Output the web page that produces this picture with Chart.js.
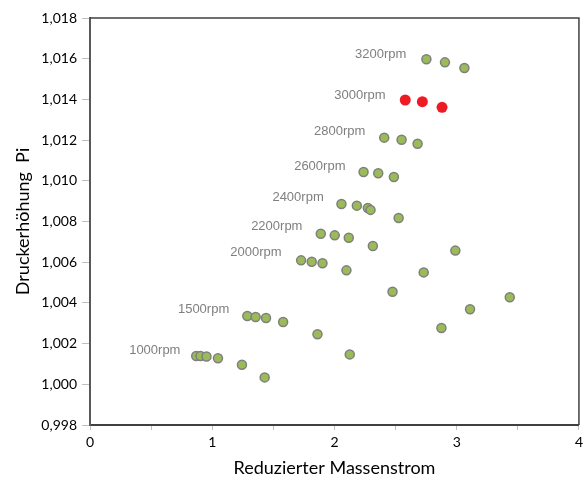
<!DOCTYPE html>
<html lang="de">

<head>
    <meta charset="UTF-8">
    <title>Druckerhöhung über reduziertem Massenstrom</title>

    <style>
        html,
        body {
            margin: 0;
            padding: 0;
            background-color: #ffffff;
            overflow: hidden;
        }

        #chart {
            display: block;
        }
    </style>

    <script src="https://cdn.jsdelivr.net/npm/chart.js"></script>
</head>

<body>

    <canvas id="chart" width="587" height="480"></canvas>

<script>
    // Messpunkte (grün)
    const massFlow = [
        2.752, 2.904, 3.063,
        2.407, 2.549, 2.680,
        2.238, 2.358, 2.486,
        2.057, 2.183, 2.273, 2.295, 2.525,
        1.888, 2.002, 2.117, 2.314,
        1.727, 1.814, 1.902, 2.098, 2.989,
        2.730, 2.475, 3.434, 3.109, 2.875, 2.125,
        1.287, 1.355, 1.440, 1.580, 1.861,
        0.869, 0.904, 0.953, 1.047, 1.243, 1.429
    ];
    const pressureRatio = [
        1.01597, 1.01582, 1.01554,
        1.01212, 1.01202, 1.01182,
        1.01043, 1.01037, 1.01019,
        1.00886, 1.00878, 1.00866, 1.00857, 1.00817,
        1.00740, 1.00732, 1.00720, 1.00680,
        1.00609, 1.00602, 1.00595, 1.00560, 1.00657,
        1.00550, 1.00455, 1.00428, 1.00369, 1.00277, 1.00147,
        1.00336, 1.00331, 1.00326, 1.00306, 1.00246,
        1.00139, 1.00139, 1.00137, 1.00128, 1.00096, 1.00034
    ];

    // 3000rpm (rot markiert)
    const massFlow3000 = [2.579, 2.719, 2.880];
    const pressure3000 = [1.01397, 1.01389, 1.01361];

    // Drehzahl-Beschriftungen (rechtsbündig, in Achsenwerten)
    const speedLabels = ['3200rpm', '3000rpm', '2800rpm', '2600rpm', '2400rpm', '2200rpm', '2000rpm', '1500rpm', '1000rpm'];
    const speedLabelX = [2.588, 2.418, 2.252, 2.090, 1.912, 1.738, 1.568, 1.139, 0.740];
    const speedLabelY = [1.01622, 1.01418, 1.01243, 1.01073, 1.00919, 1.00774, 1.00649, 1.00369, 1.00167];

    const greenPoints = massFlow.map((x, i) => ({ x: x, y: pressureRatio[i] }));
    const redPoints = massFlow3000.map((x, i) => ({ x: x, y: pressure3000[i] }));

    const speedLabelPlugin = {
        id: 'speedLabels',
        afterDatasetsDraw(chart) {
            const ctx = chart.ctx;
            const xs = chart.scales.x;
            const ys = chart.scales.y;
            ctx.save();
            ctx.font = '13px "Liberation Sans", Arial, sans-serif';
            ctx.fillStyle = '#7f7f7f';
            ctx.textAlign = 'right';
            ctx.textBaseline = 'middle';
            speedLabels.forEach((t, i) => {
                ctx.fillText(t, xs.getPixelForValue(speedLabelX[i]), ys.getPixelForValue(speedLabelY[i]));
            });
            ctx.restore();
        }
    };

    // obere und rechte Rahmenlinie
    const framePlugin = {
        id: 'frame',
        afterDraw(chart) {
            const a = chart.chartArea;
            const ctx = chart.ctx;
            ctx.save();
            ctx.strokeStyle = '#404040';
            ctx.lineWidth = 1.5;
            ctx.beginPath();
            ctx.moveTo(a.left, a.top);
            ctx.lineTo(a.right, a.top);
            ctx.lineTo(a.right, a.bottom);
            ctx.stroke();
            ctx.restore();
        }
    };

    const ctx = document.getElementById('chart').getContext('2d');
    new Chart(ctx, {
        type: 'scatter',
        data: {
            datasets: [{
                label: 'Messung',
                data: greenPoints,
                backgroundColor: '#9bbb59',
                borderColor: '#7f7f7f',
                borderWidth: 1.5,
                pointRadius: 4.5
            }, {
                label: '3000rpm',
                data: redPoints,
                backgroundColor: '#ed1c24',
                borderColor: '#ed1c24',
                borderWidth: 0,
                pointRadius: 5.5
            }]
        },
        options: {
            responsive: false,
            animation: false,
            layout: {
                padding: { top: 18, right: 8, left: 0, bottom: 0 }
            },
            plugins: {
                legend: { display: false },
                tooltip: { enabled: false }
            },
            scales: {
                x: {
                    type: 'linear',
                    min: 0,
                    max: 4,
                    ticks: {
                        stepSize: 0.5,
                        color: '#000000',
                        font: { family: 'Lato', size: 14 },
                        padding: 4,
                        maxRotation: 0,
                        autoSkip: false,
                        callback: v => (Number.isInteger(v) ? String(v) : '')
                    },
                    grid: {
                        drawOnChartArea: false,
                        color: '#bfbfbf',
                        tickLength: 5
                    },
                    border: { color: '#404040', width: 2 },
                    title: {
                        display: true,
                        text: 'Reduzierter Massenstrom',
                        color: '#000000',
                        font: { family: 'Lato', size: 18 },
                        padding: { top: 4, bottom: 1 }
                    },
                    afterFit: s => { s.height = 55; }
                },
                y: {
                    min: 0.998,
                    max: 1.018,
                    ticks: {
                        stepSize: 0.002,
                        color: '#000000',
                        font: { family: 'Lato', size: 14 },
                        padding: 5,
                        callback: v => v.toFixed(3).replace('.', ',')
                    },
                    grid: {
                        drawOnChartArea: false,
                        color: '#bfbfbf',
                        tickLength: 8
                    },
                    border: { color: '#595959', width: 2 },
                    title: {
                        display: true,
                        text: 'Druckerhöhung  Pi',
                        color: '#000000',
                        font: { family: 'Lato', size: 18 },
                        padding: { top: 12, bottom: 0 }
                    },
                    afterFit: s => { s.width = 90; }
                }
            }
        },
        plugins: [speedLabelPlugin, framePlugin]
    });
</script>

</body>

</html>
